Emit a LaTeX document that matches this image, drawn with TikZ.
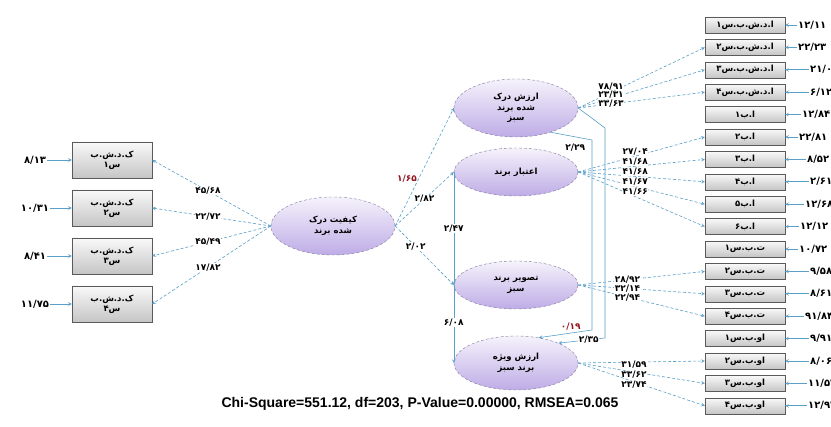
\documentclass[tikz,border=0pt]{standalone}
\usepackage{fontspec}
\setmainfont{DejaVu Sans}
\newfontfamily\fafont[Script=Arabic]{DejaVu Sans}
\newfontfamily\statfont{Liberation Sans}
\TeXXeTstate=1
\usetikzlibrary{shapes.geometric,arrows}
\newcommand{\fa}[1]{\beginR #1\endR}
\definecolor{linkblue}{RGB}{90,160,200}
\definecolor{lilac}{RGB}{190,172,230}
\definecolor{lilacline}{RGB}{130,120,160}
\definecolor{boxedge}{RGB}{90,90,90}
\definecolor{nsred}{RGB}{150,20,30}

\begin{document}
\begin{tikzpicture}[x=1pt,y=-1pt,>=stealth]
\useasboundingbox (0,0) rectangle (831,427);
\fill[white] (0,0) rectangle (831,427);
\tikzstyle{latent}=[ellipse, draw=lilacline, densely dashed, top color=lilac!15,
                    bottom color=lilac, minimum width=124pt, inner sep=0pt,
                    align=center, font=\fafont\bfseries\fontsize{8.5}{10.5}\selectfont]
\tikzstyle{obs}=[rectangle, draw=boxedge, solid, top color=gray!5, bottom color=gray!45,
                 minimum width=80pt, minimum height=16pt, inner sep=1pt,
                 font=\fafont\bfseries\fontsize{8.5}{10}\selectfont]
\tikzstyle{lbl}=[fill=white, text=black, inner sep=0.5pt,
                 font=\fafont\bfseries\fontsize{9}{9.5}\selectfont]
\tikzstyle{errnum}=[text=black, inner sep=1pt, font=\fafont\bfseries\fontsize{10}{11}\selectfont]
\tikzstyle{link}=[->, linkblue, densely dashed, line width=0.6pt]
\tikzstyle{errlink}=[->, linkblue, line width=0.6pt]
\tikzstyle{solidlink}=[->, linkblue, line width=0.6pt]

% latent variables
\node[latent, minimum height=58pt] (kd) at (333,226) {\fa{کیفیت درک}\\\fa{شده برند}};
\node[latent, minimum height=58pt] (ad) at (516,108) {\fa{ارزش درک}\\\fa{شده برند}\\\fa{سبز}};
\node[latent, minimum height=48pt] (eb) at (516,172) {\fa{اعتبار برند}};
\node[latent, minimum height=48pt] (tb) at (516,285) {\fa{تصویر برند}\\\fa{سبز}};
\node[latent, minimum height=54pt] (av) at (516,363) {\fa{ارزش ویژه}\\\fa{برند سبز}};

% left indicators
\foreach \i/\d/\y/\er/\co in {1/۱/160/{۸/۱۳}/{۴۵/۶۸}, 2/۲/208/{۱۰/۳۱}/{۲۲/۷۲},
                              3/۳/256/{۸/۴۱}/{۴۵/۴۹}, 4/۴/304/{۱۱/۷۵}/{۱۷/۸۲}}{
	\node[obs, minimum height=36pt, align=center] (k\i) at (112,\y) {\fa{ک.د.ش.ب}\\\fa{س\d}};
	\node[errnum] (ek\i) at (35,\y) {\er};
	\draw[errlink] (ek\i) -- (k\i);
	\draw[link] (kd.west) -- node[lbl, pos=.53] {\co} (k\i.east);
	}

% right indicators
\foreach \i/\t/\er/\ex in {1/{ا.د.ش.ب.س۱}/{۱۲/۱۱}/797, 2/{ا.د.ش.ب.س۲}/{۲۲/۲۳}/797,
	3/{ا.د.ش.ب.س۳}/{۲۱/۰۴}/809, 4/{ا.د.ش.ب.س۴}/{۶/۱۲}/809,
	5/{ا.ب۱}/{۱۲/۸۴}/801, 6/{ا.ب۲}/{۲۲/۸۱}/798, 7/{ا.ب۳}/{۸/۵۲}/806,
	8/{ا.ب۴}/{۲/۶۱}/809, 9/{ا.ب۵}/{۱۲/۶۸}/804, 10/{ا.ب۶}/{۱۲/۱۲}/799,
	11/{ت.ب.س۱}/{۱۰/۷۲}/798, 12/{ت.ب.س۲}/{۹/۵۸}/809, 13/{ت.ب.س۳}/{۸/۶۱}/809,
	14/{ت.ب.س۴}/{۹۱/۸۴}/804, 15/{او.ب.س۱}/{۹/۹۱}/809, 16/{او.ب.س۲}/{۸/۰۶}/809,
	17/{او.ب.س۳}/{۱۱/۵۲}/807, 18/{او.ب.س۴}/{۱۲/۹۳}/807}{
	\node[obs] (m\i) at (745,{25+22.4*(\i-1)}) {\fa{\t}};
	\node[errnum, anchor=west] (em\i) at (\ex,{25+22.4*(\i-1)}) {\er};
	\draw[errlink] (em\i) -- (m\i);
	}

% loadings
\foreach \j/\co/\s in {2/{۷۸/۹۱}/6, 3/{۲۳/۳۱}/3, 4/{۳۳/۶۳}/0}
	\draw[link] (ad.east) -- node[lbl, pos=.26, yshift=\s pt] {\co} (m\j.west);
\foreach \j/\co in {6/{۲۷/۰۴}, 7/{۴۱/۶۸}, 8/{۴۱/۶۸}, 9/{۴۱/۶۷}, 10/{۴۱/۶۶}}
	\draw[link] (eb.east) -- node[lbl, pos=.45, yshift=5pt] {\co} (m\j.west);
\foreach \j/\co in {12/{۲۸/۹۲}, 13/{۳۲/۱۴}, 14/{۲۲/۹۴}}
	\draw[link] (tb.east) -- node[lbl, pos=.39] {\co} (m\j.west);
\foreach \j/\co in {16/{۳۱/۵۹}, 17/{۳۳/۶۲}, 18/{۲۳/۷۴}}
	\draw[link] (av.east) -- node[lbl, pos=.44, yshift=-3pt] {\co} (m\j.west);

% structural paths
\draw[link] (kd.east) -- node[lbl, pos=.4, left=1pt, text=nsred] {۱/۶۵} (ad.west);
\draw[link] (kd.east) -- node[lbl, pos=.5] {۲/۸۲} (eb.west);
\draw[link] (kd.east) -- node[lbl, pos=.35] {۲/۰۲} (tb.west);
\draw[solidlink] (eb.west) -- node[lbl, pos=.5] {۲/۴۷} (tb.west);
\draw[solidlink] (tb.west) -- node[lbl, pos=.48] {۶/۰۸} (av.west);

\coordinate (r1) at (605,128);
\coordinate (r2) at (605,338);
\draw[solidlink] (ad.east) -- (r1) -- (r2) -- node[lbl, pos=.35] {۲/۳۵} (av.25);
\coordinate (q1) at (592,140);
\coordinate (q2) at (592,330);
\draw[solidlink] (ad.-35) -- (q1) -- node[lbl, pos=.04, left=6pt] {۲/۲۹} (q2)
	-- node[lbl, pos=.2, above left=0pt, text=nsred] {۰/۱۹} (av.48);

\node[font=\statfont\bfseries\fontsize{14}{15}\selectfont] (stats) at (420,404)
	{Chi-Square=551.12, df=203, P-Value=0.00000, RMSEA=0.065};
\end{tikzpicture}
\end{document}
